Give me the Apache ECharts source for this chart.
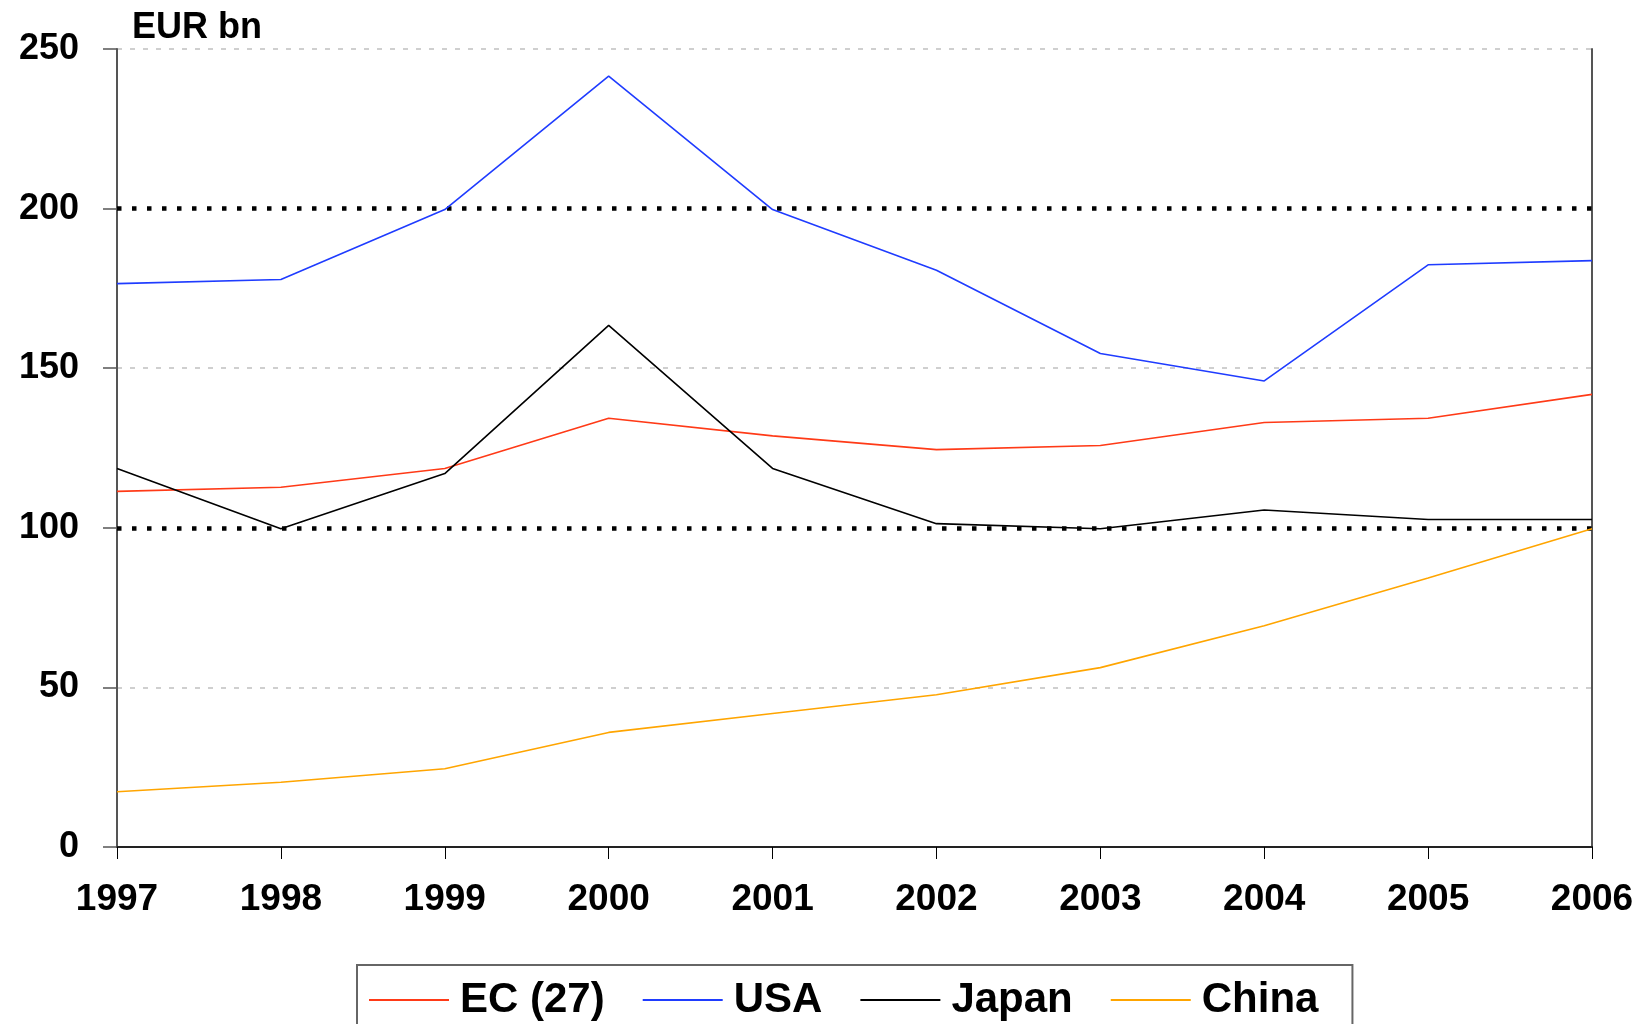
<!DOCTYPE html>
<html>
<head>
<meta charset="utf-8">
<script src="https://cdn.jsdelivr.net/npm/echarts@6/dist/echarts.min.js"></script>
<style>
  html, body { margin: 0; padding: 0; background: #fff; }
  #chart { width: 1635px; height: 1024px; }
</style>
</head>
<body>
<div id="chart"></div>
<script>
var years = ['1997', '1998', '1999', '2000', '2001', '2002', '2003', '2004', '2005', '2006'];
var ec27 = [111.4, 112.7, 118.6, 134.3, 128.8, 124.5, 125.8, 133.0, 134.3, 141.8];
var usa = [176.5, 177.8, 199.7, 241.5, 199.7, 180.7, 154.6, 146.0, 182.4, 183.7];
var japan = [118.6, 99.7, 117.0, 163.4, 118.6, 101.3, 99.7, 105.6, 102.6, 102.6];
var china = [17.3, 20.3, 24.5, 35.9, 41.8, 47.7, 56.2, 69.3, 84.3, 99.7];
var refLines = [100, 200];

var myChart = echarts.init(document.getElementById('chart'));
var font = 'Arial, "Liberation Sans", sans-serif';

var lineSeries = function (name, data, color) {
  return {
    name: name,
    type: 'line',
    data: data,
    symbol: 'none',
    z: 5,
    lineStyle: { color: color, width: 1.6 },
    itemStyle: { color: color }
  };
};

var series = [
  lineSeries('EC (27)', ec27, '#ff3a17'),
  lineSeries('USA', usa, '#1f3cff'),
  lineSeries('Japan', japan, '#000000'),
  lineSeries('China', china, '#ffa500')
];
// dotted reference lines at 100 and 200
series[0].markLine = {
  silent: true,
  symbol: 'none',
  label: { show: false },
  lineStyle: { color: '#000', width: 4.5, type: [4.5, 10.5] },
  z: 3,
  data: refLines.map(function (v) { return { yAxis: v }; })
};

var option = {
  animation: false,
  backgroundColor: '#fff',
  title: {
    text: 'EUR bn',
    left: 127,
    top: 5,
    textStyle: { fontFamily: font, fontSize: 36, fontWeight: 'bold', color: '#000' }
  },
  legend: {
    left: 357,
    top: 965,
    padding: [14, 34, 60, 12],
    borderColor: '#666',
    borderWidth: 2,
    icon: 'rect',
    itemWidth: 80,
    itemHeight: 2,
    itemGap: 38,
    data: ['EC (27)', 'USA', 'Japan', 'China'],
    textStyle: { fontFamily: font, fontSize: 42, fontWeight: 'bold', color: '#000', padding: [0, 0, 0, 6] }
  },
  grid: { left: 117, right: 43, top: 49, bottom: 177, outerBoundsMode: 'none', containLabel: false },
  xAxis: [{
    type: 'category',
    data: years,
    boundaryGap: false,
    axisLine: { lineStyle: { color: '#000', width: 2 } },
    axisTick: { show: true, length: 12, lineStyle: { color: '#000', width: 1 } },
    axisLabel: { fontFamily: font, fontSize: 37, fontWeight: 'bold', color: '#000', margin: 34 }
  }, {
    type: 'category',
    data: years,
    position: 'top',
    boundaryGap: false,
    axisLine: { show: true, lineStyle: { color: '#222', width: 2 } },
    axisTick: { show: false },
    axisLabel: { show: false }
  }],
  yAxis: [{
    type: 'value',
    min: 0,
    max: 250,
    interval: 50,
    axisLine: { show: true, lineStyle: { color: '#555', width: 2 } },
    axisTick: { show: true, length: 14, lineStyle: { color: '#555', width: 1.5 } },
    axisLabel: { fontFamily: font, fontSize: 36, fontWeight: 'bold', color: '#000', margin: 38 },
    splitLine: {
      show: true,
      lineStyle: {
        color: ['transparent', '#c0c0c0', 'transparent', '#c0c0c0', 'transparent', '#c0c0c0'],
        type: [5, 8],
        width: 1.5
      }
    }
  }, {
    type: 'value',
    min: 0,
    max: 250,
    interval: 50,
    position: 'right',
    axisLine: { show: true, lineStyle: { color: '#555', width: 2 } },
    axisTick: { show: false },
    axisLabel: { show: false },
    splitLine: { show: false }
  }],
  series: series
};

myChart.setOption(option);
</script>
</body>
</html>
